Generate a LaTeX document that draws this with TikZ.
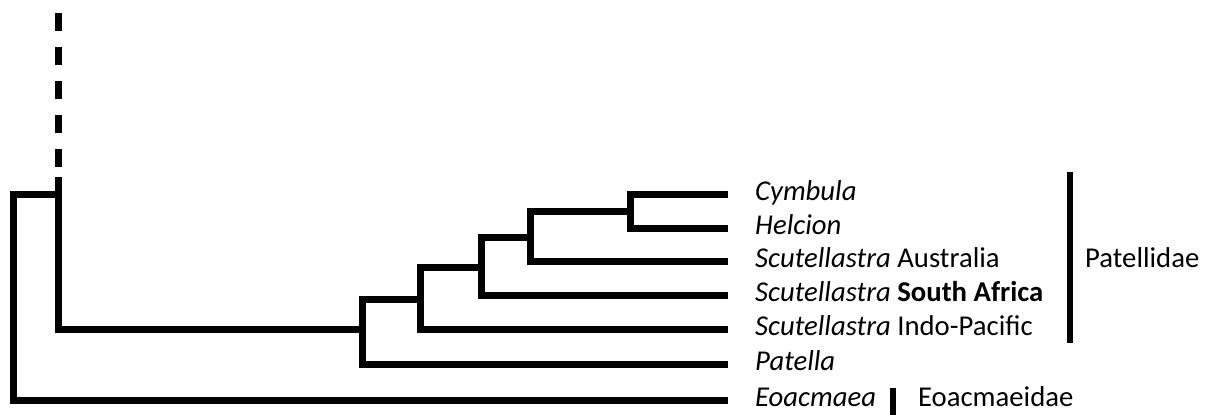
\documentclass[tikz,border=0pt]{standalone}
\usepackage{fontspec}
\setmainfont{Carlito}
\usetikzlibrary{positioning}

\begin{document}
\begin{tikzpicture}[x=1pt, y=-1pt, font=\fontsize{28.7}{34}\selectfont,
    branch/.style={line width=7pt},
    taxon/.style={inner sep=0pt, yshift=-6pt},
    famline/.style={line width=6pt}]
  \useasboundingbox (0,0) rectangle (1208,415);
  % leaf tips
  \foreach \id/\yy in {Cym/194, Hel/228, Aus/261, Saf/295, Ind/329, Pat/364, Eoa/400}
    \coordinate (t\id) at (728,\yy);
  % internal nodes
  \coordinate (nA) at (630,211);
  \coordinate (nB) at (530,237);
  \coordinate (nC) at (481,267);
  \coordinate (nD) at (420,299);
  \coordinate (nE) at (362,329);
  \coordinate (nF) at (58,194);
  \coordinate (root) at (13,300);
  \coordinate (stem) at (58,177);
  \coordinate (stemEnd) at (58,13);

  % tree
  \draw[branch] (tCym) -| (nA) |- (tHel);
  \draw[branch] (nA) -| (nB) |- (tAus);
  \draw[branch] (nB) -| (nC) |- (tSaf);
  \draw[branch] (nC) -| (nD) |- (tInd);
  \draw[branch] (nD) -| (nE) |- (tPat);
  \draw[branch] (stem) |- (nE);
  \draw[branch] (nF) -| (root) |- (tEoa);
  \draw[branch, dash pattern=on 18pt off 16pt] (stemEnd) -- (stem);

  % taxon names
  \node[taxon, base right=27pt of tCym] (lCym) {\textit{Cymbula}};
  \node[taxon, base right=27pt of tHel] (lHel) {\textit{Helcion}};
  \node[taxon, base right=27pt of tAus] (lAus) {\textit{Scutellastra} Australia};
  \node[taxon, base right=27pt of tSaf] (lSaf) {\textit{Scutellastra} \textbf{South Africa}};
  \node[taxon, base right=27pt of tInd] (lInd) {\textit{Scutellastra} Indo-Pacific};
  \node[taxon, base right=27pt of tPat] (lPat) {\textit{Patella}};
  \node[taxon, base right=27pt of tEoa] (lEoa) {\textit{Eoacmaea}};

  % families
  \draw[famline] (1070,172) -- (1070,343);
  \node[taxon, base right=15pt of {(1070,261)}] (fPat) {Patellidae};
  \draw[famline] (893,388) -- (893,415);
  \node[taxon, base right=25pt of {(893,400)}] (fEoa) {Eoacmaeidae};
\end{tikzpicture}
\end{document}
